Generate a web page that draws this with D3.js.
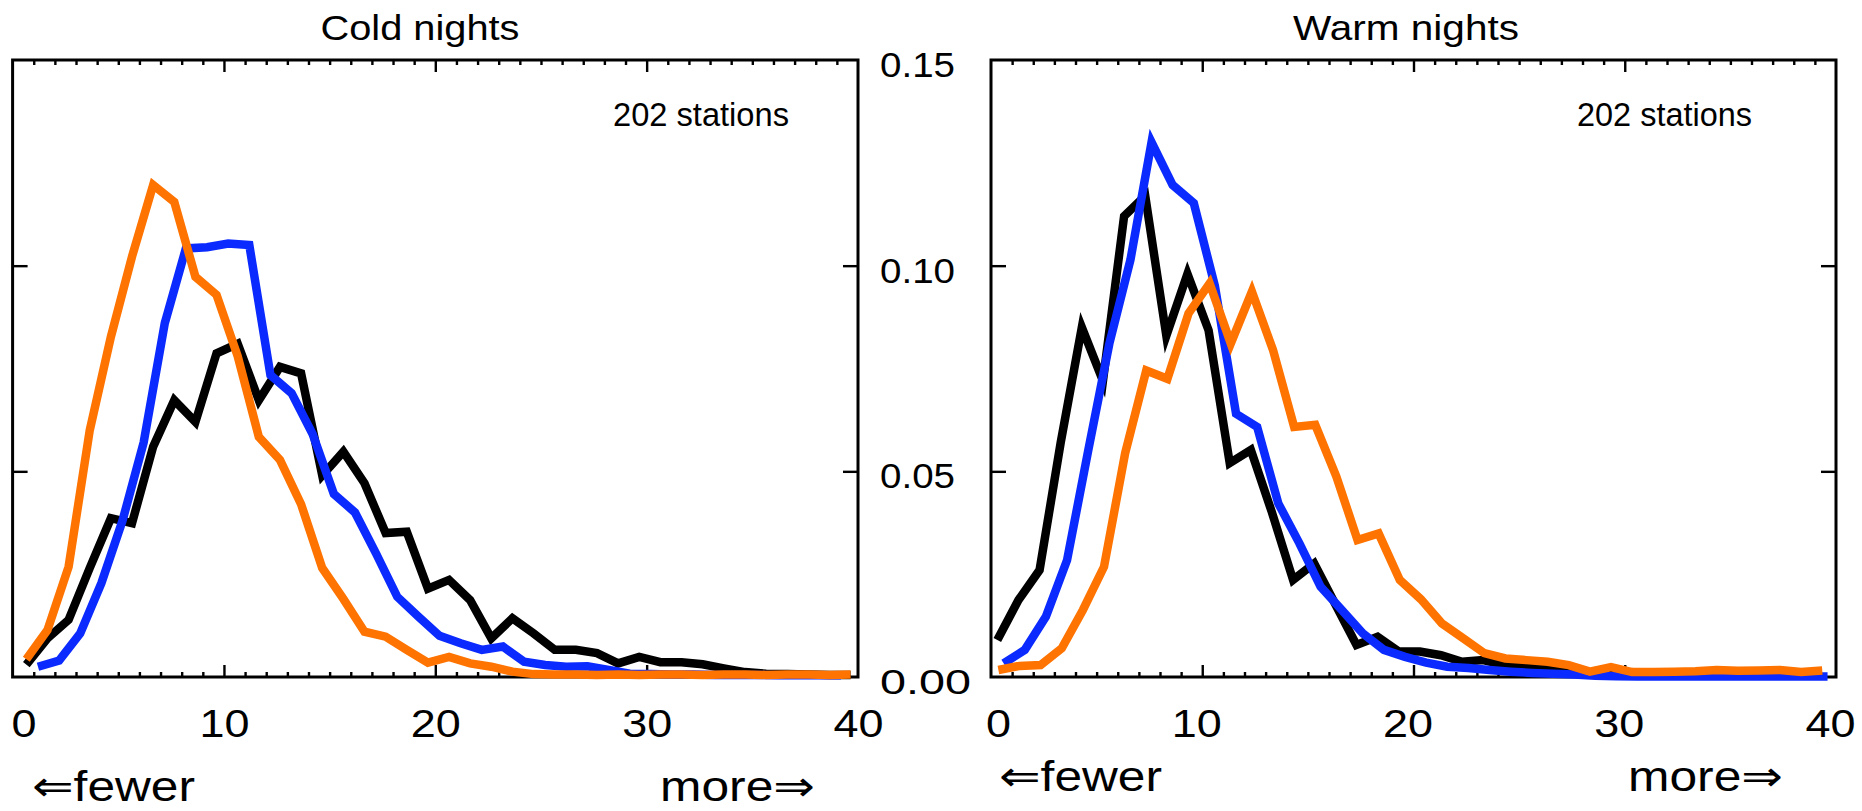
<!DOCTYPE html>
<html>
<head>
<meta charset="utf-8">
<script src="https://cdn.jsdelivr.net/npm/d3@7"></script>
<style>
  body { margin: 0; background: #fff; }
  text { font-family: "Liberation Sans", "DejaVu Sans", Arial, sans-serif; fill: #000; }
</style>
</head>
<body>
<svg id="chart" width="1862" height="811"></svg>
<script>
// ---------------- DATA ----------------
// Frequency of stations per bin (number of nights); each series starts at its own bin offset, step 1
const coldBlack = [0.003, 0.0094, 0.0139, 0.0265, 0.0386, 0.0374, 0.056, 0.0673, 0.062, 0.0787,
  0.081, 0.0673, 0.0754, 0.0738, 0.049, 0.0548, 0.0471, 0.035, 0.0353, 0.0215,
  0.0236, 0.0187, 0.0094, 0.0143, 0.0106, 0.0066, 0.0066, 0.0058, 0.0033, 0.0049,
  0.0036, 0.0036, 0.0031, 0.0021, 0.0012, 0.0008, 0.0007, 0.0006, 0.0005, 0.0005];
const coldBlue = [0.0025, 0.004, 0.0106, 0.0228, 0.038, 0.057, 0.086, 0.1042, 0.1045, 0.1054,
  0.105, 0.0734, 0.069, 0.059, 0.0445, 0.040, 0.030, 0.0195, 0.0147, 0.010,
  0.0082, 0.0066, 0.0074, 0.0037, 0.0029, 0.0025, 0.0026, 0.0017, 0.0008, 0.0007,
  0.0006, 0.0006, 0.0005, 0.0005, 0.0005, 0.0004, 0.0004, 0.0004, 0.0004];
const coldOrange = [0.0043, 0.0114, 0.0268, 0.060, 0.0827, 0.1022, 0.1196, 0.1155, 0.0973, 0.0929,
  0.078, 0.0584, 0.0528, 0.042, 0.0265, 0.019, 0.011, 0.0098, 0.0066, 0.0035,
  0.0049, 0.0033, 0.0025, 0.0013, 0.0007, 0.0006, 0.0006, 0.0005, 0.0006, 0.0005,
  0.0006, 0.0006, 0.0005, 0.0006, 0.0006, 0.0005, 0.0006, 0.0006, 0.0005, 0.0006];

const warmBlack = [0.009, 0.0187, 0.026, 0.057, 0.085, 0.072, 0.112, 0.117, 0.083, 0.098,
  0.0843, 0.052, 0.0552, 0.040, 0.0236, 0.0276, 0.0177, 0.0078, 0.0098, 0.0062,
  0.0062, 0.0053, 0.0037, 0.0041, 0.0029, 0.0025, 0.0022, 0.0018, 0.0012, 0.0009,
  0.0008, 0.0007, 0.0006, 0.0006, 0.0005, 0.0005, 0.0005, 0.0005, 0.0004, 0.0004];
const warmBlue = [0.0033, 0.0066, 0.0147, 0.0284, 0.055, 0.081, 0.1014, 0.130, 0.1196, 0.1152,
  0.095, 0.064, 0.0608, 0.0422, 0.0325, 0.022, 0.0163, 0.0106, 0.0066, 0.0049,
  0.0035, 0.0025, 0.0022, 0.0017, 0.0013, 0.001, 0.0008, 0.0006, 0.0003, 0.0002,
  0.0001, 0.0001, 0.0001, 0.0001, 0.0001, 0.0001, 0.0001, 0.0001, 0.0001, 0.0001];
const warmOrange = [0.0017, 0.0027, 0.0029, 0.007, 0.0163, 0.0268, 0.0544, 0.0745, 0.0725, 0.0884,
  0.0957, 0.0811, 0.0937, 0.0795, 0.0608, 0.0613, 0.0487, 0.0333, 0.0349, 0.0236,
  0.0189, 0.013, 0.0094, 0.0058, 0.0045, 0.0041, 0.0037, 0.0029, 0.0013, 0.0024,
  0.0012, 0.0012, 0.0013, 0.0014, 0.0017, 0.0015, 0.0016, 0.0017, 0.0012, 0.0016];

// x of the first value of each series (bins are 1 apart)
const coldStarts = [0.65, 1.2, 0.65];   // black, blue, orange
const warmStarts = [0.3, 0.6, 0.35];

const xTickValues = [0, 10, 20, 30, 40];
const xTickLabels = ["0", "10", "20", "30", "40"];
const yTickValues = [0, 0.05, 0.10, 0.15];
const yTickLabels = ["0.00", "0.05", "0.10", "0.15"];
const panelTitles = ["Cold nights", "Warm nights"];
const stationNote = "202 stations";
const fewerLabel = "\u21D0fewer";
const moreLabel = "more\u21D2";

// ---------------- LAYOUT / STYLE ----------------
const colors = ["#000000", "#0a2aff", "#ff7300"];
const lineWidth = 8.5;
const yTop = 60, yBottom = 677;
const panels = [
  { x0: 12.6, x1: 858, title: panelTitles[0], titleX: 420, titleW: 199,
    noteX: 613, noteW: 176, fewerX: 32, moreX: 660, arrowY: 801, zeroDx: 11, labelDx: 0,
    series: [coldBlack, coldBlue, coldOrange], starts: coldStarts },
  { x0: 991, x1: 1836, title: panelTitles[1], titleX: 1406, titleW: 226,
    noteX: 1577, noteW: 175, fewerX: 999, moreX: 1628, arrowY: 791, zeroDx: 7, labelDx: -6,
    series: [warmBlack, warmBlue, warmOrange], starts: warmStarts }
];

const svg = d3.select("#chart");
svg.append("rect").attr("width", 1862).attr("height", 811).attr("fill", "#fff");

const y = d3.scaleLinear().domain([0, 0.15]).range([yBottom, yTop]);

panels.forEach(p => {
  const x = d3.scaleLinear().domain([0, 40]).range([p.x0, p.x1]);
  const g = svg.append("g");

  const minor = d3.range(1, 40).filter(v => v % 10 !== 0);
  const major = [10, 20, 30];
  const tickStyle = sel => {
    sel.select(".domain").remove();
    sel.selectAll("line").attr("stroke", "#000").attr("stroke-width", 2.4);
  };

  // bottom ticks (inward)
  g.append("g").attr("transform", `translate(0,${yBottom})`)
    .call(d3.axisBottom(x).tickValues(minor).tickSize(-5).tickFormat("")).call(tickStyle);
  g.append("g").attr("transform", `translate(0,${yBottom})`)
    .call(d3.axisBottom(x).tickValues(major).tickSize(-12).tickFormat("")).call(tickStyle);
  // top ticks (inward)
  g.append("g").attr("transform", `translate(0,${yTop})`)
    .call(d3.axisTop(x).tickValues(minor).tickSize(-5).tickFormat("")).call(tickStyle);
  g.append("g").attr("transform", `translate(0,${yTop})`)
    .call(d3.axisTop(x).tickValues(major).tickSize(-12).tickFormat("")).call(tickStyle);
  // left / right ticks (inward)
  g.append("g").attr("transform", `translate(${p.x0},0)`)
    .call(d3.axisLeft(y).tickValues([0.05, 0.10]).tickSize(-15).tickFormat("")).call(tickStyle);
  g.append("g").attr("transform", `translate(${p.x1},0)`)
    .call(d3.axisRight(y).tickValues([0.05, 0.10]).tickSize(-15).tickFormat("")).call(tickStyle);

  // frame
  g.append("rect").attr("x", p.x0).attr("y", yTop)
    .attr("width", p.x1 - p.x0).attr("height", yBottom - yTop)
    .attr("fill", "none").attr("stroke", "#000").attr("stroke-width", 3);

  // x tick labels
  const xl = g.append("g").attr("transform", `translate(0,${yBottom})`)
    .call(d3.axisBottom(x).tickValues(xTickValues).tickSize(0).tickPadding(0)
      .tickFormat((d, i) => xTickLabels[i]));
  xl.select(".domain").remove();
  xl.selectAll("text")
    .attr("y", 60).attr("dy", null)
    .attr("dx", (d, i) => i === 0 ? p.zeroDx : p.labelDx)
    .attr("font-size", 39)
    .style("font-family", '"Liberation Sans", "DejaVu Sans", sans-serif')
    .attr("fill", "#000")
    .attr("textLength", (d, i) => xTickLabels[i].length * 25)
    .attr("lengthAdjust", "spacingAndGlyphs");

  // series lines: black, blue, orange (orange on top)
  p.series.forEach((vals, si) => {
    const line = d3.line()
      .x((d, i) => x(p.starts[si] + i))
      .y(d => y(d));
    g.append("path").datum(vals)
      .attr("d", line)
      .attr("fill", "none")
      .attr("stroke", colors[si])
      .attr("stroke-width", lineWidth)
      .attr("stroke-linejoin", "miter")
      .attr("stroke-miterlimit", 6)
      .attr("stroke-linecap", "butt");
  });

  // title
  g.append("text").attr("x", p.titleX).attr("y", 40)
    .attr("text-anchor", "middle").attr("font-size", 35)
    .attr("textLength", p.titleW).attr("lengthAdjust", "spacingAndGlyphs")
    .text(p.title);

  // station note
  g.append("text").attr("x", p.noteX).attr("y", 126)
    .attr("font-size", 34)
    .attr("textLength", p.noteW).attr("lengthAdjust", "spacingAndGlyphs")
    .text(stationNote);

  // fewer / more
  g.append("text").attr("x", p.fewerX).attr("y", p.arrowY)
    .attr("font-size", 43)
    .attr("textLength", 163).attr("lengthAdjust", "spacingAndGlyphs")
    .text(fewerLabel);
  g.append("text").attr("x", p.moreX).attr("y", p.arrowY)
    .attr("font-size", 43)
    .attr("textLength", 155).attr("lengthAdjust", "spacingAndGlyphs")
    .text(moreLabel);
});

// shared y tick labels between the panels
svg.append("g").selectAll("text")
  .data(yTickValues)
  .join("text")
  .attr("x", 880)
  .attr("y", d => y(d) + 17)
  .attr("font-size", 35)
  .attr("textLength", (d, i) => i === 0 ? 91 : 75)
  .attr("lengthAdjust", "spacingAndGlyphs")
  .text((d, i) => yTickLabels[i]);
</script>
</body>
</html>
